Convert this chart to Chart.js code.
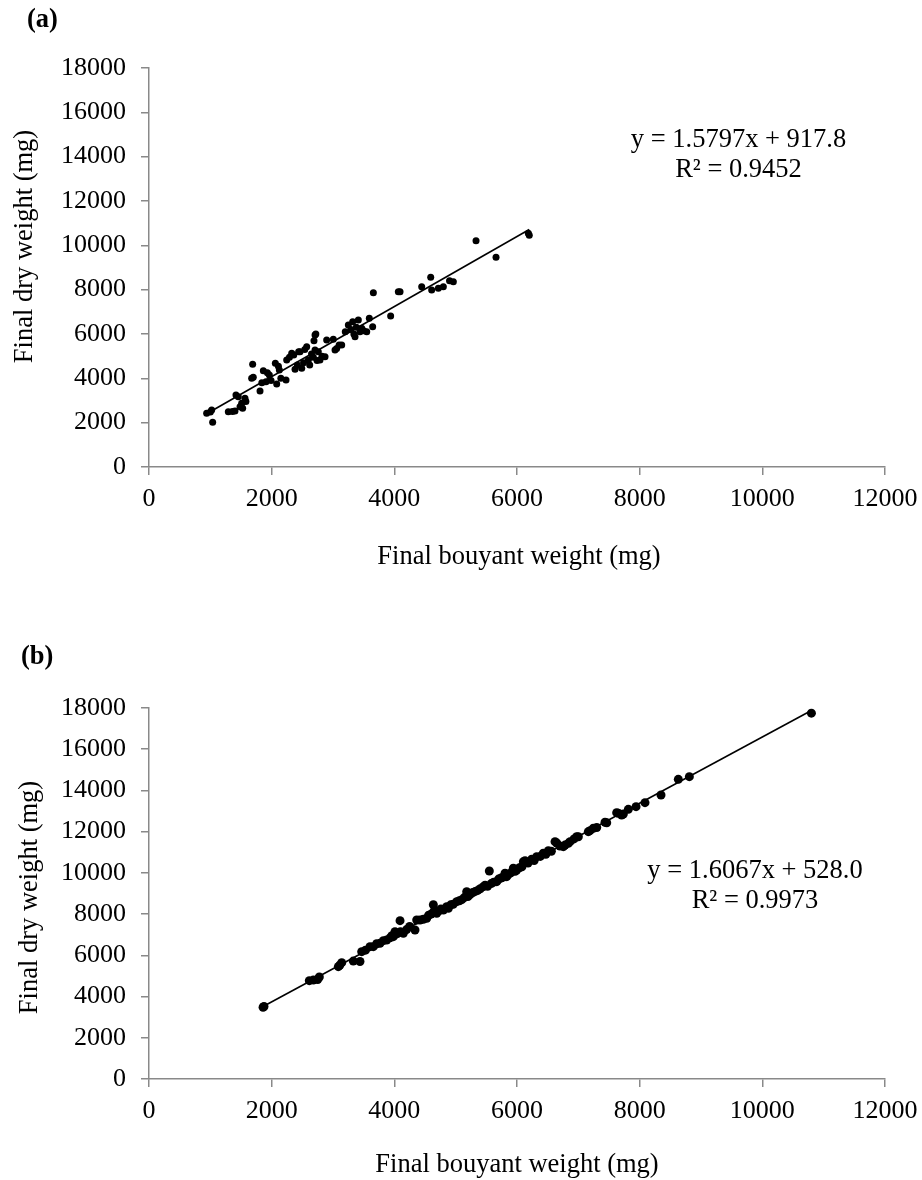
<!DOCTYPE html>
<html><head><meta charset="utf-8">
<script src="https://cdn.jsdelivr.net/npm/chart.js@4/dist/chart.umd.min.js"></script>
<style>
html,body{margin:0;padding:0;background:#fff;}
body{width:922px;height:1180px;position:relative;overflow:hidden;}
canvas{position:absolute;left:0;}
#ca{top:0;}
#cb{top:590px;}
</style></head><body>
<canvas id="ca" width="922" height="590"></canvas>
<canvas id="cb" width="922" height="590"></canvas>
<script>
// ---- tick labels & titles ----
const xTickLabels = ['0','2000','4000','6000','8000','10000','12000'];
const yTickLabels = ['0','2000','4000','6000','8000','10000','12000','14000','16000','18000'];
const panelLabels = ['(a)','(b)'];
const xTitle = 'Final bouyant weight (mg)';
const yTitle = 'Final dry weight (mg)';

// ---- panel (a) data: [bouyant weight, dry weight] ----
const buoyantA = [940,1000,1022,1038,1293,1360,1402,1418,1456,1484,1511,1527,1565,1580,1674,1690,1700,1810,1840,1864,1908,1930,1962,1990,2060,2082,2110,2125,2150,2234,2245,2290,2327,2360,2381,2420,2440,2462,2490,2520,2540,2571,2598,2620,2650,2680,2690,2707,2707,2720,2740,2760,2788,2820,2870,2897,3005,3033,3060,3100,3142,3200,3250,3290,3321,3340,3359,3380,3413,3440,3468,3500,3550,3592,3647,3658,3940,4065,4093,4446,4593,4609,4718,4799,4900,4962,5332,5658,6185,6200];
const dryA = [2420,2480,2571,2015,2495,2500,2526,3248,3172,2721,2871,2646,3098,2950,4000,4630,4050,3428,3800,4345,3849,4250,4150,3900,4676,3744,4550,4375,4000,3924,4826,4950,5127,5050,4405,4600,5200,5202,4450,4700,5300,5428,4826,4600,5100,4950,5700,5954,5277,6000,4800,5200,4826,5000,4976,5728,5759,5277,5350,5500,5503,6100,6405,6200,6555,6000,5879,6300,6631,6100,6254,6150,6103,6705,6329,7865,6810,7910,7910,8133,8556,7984,8059,8133,8400,8360,10208,9457,10541,10450];
const slopeA = 1.5797, interceptA = 917.8;
const eqTextA = ['y = 1.5797x + 917.8','R\u00B2 = 0.9452'];

// ---- panel (b) data ----
const buoyantB = [1860,1875,2614,2680,2750,2777,3087,3110,3142,3331,3440,3468,3530,3603,3658,3712,3766,3821,3875,3930,3960,3984,4011,4050,4093,4100,4147,4200,4250,4337,4365,4419,4473,4528,4560,4600,4636,4650,4691,4720,4760,4800,4854,4881,4920,4960,5017,5060,5100,5140,5180,5200,5235,5280,5320,5360,5400,5451,5480,5520,5549,5580,5620,5669,5700,5740,5780,5805,5832,5870,5900,5940,5970,5995,6040,6080,6104,6131,6180,6240,6280,6321,6380,6429,6470,6511,6560,6620,6647,6700,6756,6783,6837,6865,6930,6973,7000,7163,7190,7245,7300,7435,7463,7625,7652,7706,7734,7815,7941,8087,8348,8630,8810,10800];
const dryB = [3480,3520,4770,4800,4830,4950,5450,5520,5643,5720,5700,6177,6250,6420,6420,6560,6582,6711,6744,6850,6950,6905,7148,7050,7681,7150,7067,7250,7400,7230,7715,7715,7749,7800,7950,8000,8454,8150,8040,8150,8250,8200,8360,8282,8450,8480,8603,8650,8700,8800,9088,8850,8950,9050,9100,9150,9230,9331,9400,9350,10092,9480,9550,9574,9700,9750,9800,9981,9816,9950,10000,10223,10080,10141,10250,10300,10544,10592,10480,10660,10600,10786,10800,10951,10900,11077,11050,11514,11450,11300,11271,11350,11434,11514,11650,11756,11756,11999,12050,12164,12200,12455,12435,12923,12891,12810,12858,13084,13213,13407,13780,14540,14668,17750];
const slopeB = 1.6067, interceptB = 528.0;
const eqTextB = ['y = 1.6067x + 528.0','R\u00B2 = 0.9973'];

const FONT = 'Liberation Serif, "Times New Roman", serif';
const AXIS = '#898989';

function textPlugin(L){
  return {
    id:'texts',
    afterDraw(chart){
      const c = chart.ctx;
      c.save();
      c.fillStyle = '#000';
      c.textBaseline = 'alphabetic';
      c.font = 'bold ' + L.fs + 'px ' + FONT;
      c.textAlign = 'left';
      c.fillText(L.panel, L.panelX, L.panelY);
      c.font = L.fs + 'px ' + FONT;
      c.textAlign = 'center';
      c.fillText(L.eq[0], L.eqX, L.eqY1);
      c.fillText(L.eq[1], L.eqX, L.eqY2);
      c.fillText(xTitle, L.xtX, L.xtY);
      c.translate(L.ytX, L.ytY);
      c.rotate(-Math.PI/2);
      c.fillText(yTitle, 0, 0);
      c.restore();
    }
  };
}

function makeChart(id, xs, ys, slope, intercept, L){
  const pts = xs.map((x,i)=>({x:x, y:ys[i]}));
  const xmin = Math.min(...xs), xmax = Math.max(...xs);
  const fitLine = [{x:xmin, y:slope*xmin+intercept},{x:xmax, y:slope*xmax+intercept}];
  return new Chart(document.getElementById(id), {
    type:'scatter',
    data:{datasets:[
      {data:pts, pointRadius:L.r, pointHoverRadius:L.r, backgroundColor:'#000', borderColor:'#000', borderWidth:0, pointStyle:'circle', order:2},
      {type:'line', data:fitLine, showLine:true, pointRadius:0, borderColor:'#000', borderWidth:1.6, fill:false, order:1}
    ]},
    options:{
      responsive:false, maintainAspectRatio:false, animation:false, devicePixelRatio:1,
      layout:{padding:{top:L.padTop, right:37, left:0, bottom:0}},
      plugins:{legend:{display:false}, tooltip:{enabled:false}},
      scales:{
        x:{type:'linear', min:0, max:12000,
           ticks:{stepSize:2000, color:'#000', font:{family:FONT, size:L.tfs}, padding:9,
                  callback:(v)=>xTickLabels[Math.round(v/2000)], maxRotation:0, autoSkip:false},
           grid:{drawOnChartArea:false, drawTicks:true, tickLength:8, color:AXIS, lineWidth:1.5},
           border:{color:AXIS, width:1.5},
           afterFit:(s)=>{s.height = L.xH; s.paddingLeft = 0; s.paddingRight = 0;}},
        y:{type:'linear', min:0, max:18000,
           ticks:{stepSize:2000, color:'#000', font:{family:FONT, size:L.tfs}, padding:15,
                  callback:(v)=>yTickLabels[Math.round(v/2000)], autoSkip:false},
           grid:{drawOnChartArea:false, drawTicks:true, tickLength:8, color:AXIS, lineWidth:1.5},
           border:{color:AXIS, width:1.5},
           afterFit:(s)=>{s.width = 149; s.paddingTop = 0; s.paddingBottom = 0;}}
      }
    },
    plugins:[textPlugin(L)]
  });
}

makeChart('ca', buoyantA, dryA, slopeA, interceptA, {
  padTop:68, xH:123, r:3.5, fs:26.5, tfs:26,
  panel:panelLabels[0], panelX:27, panelY:27,
  eq:eqTextA, eqX:738.5, eqY1:146.5, eqY2:176.5,
  xtX:519, xtY:563.5, ytX:31.7, ytY:246.5
});
makeChart('cb', buoyantB, dryB, slopeB, interceptB, {
  padTop:118, xH:101, r:4.5, fs:26.5, tfs:26,
  panel:panelLabels[1], panelX:21, panelY:74,
  eq:eqTextB, eqX:755, eqY1:287.5, eqY2:318,
  xtX:517, xtY:581.7, ytX:36.7, ytY:307.5
});
</script>
</body></html>
